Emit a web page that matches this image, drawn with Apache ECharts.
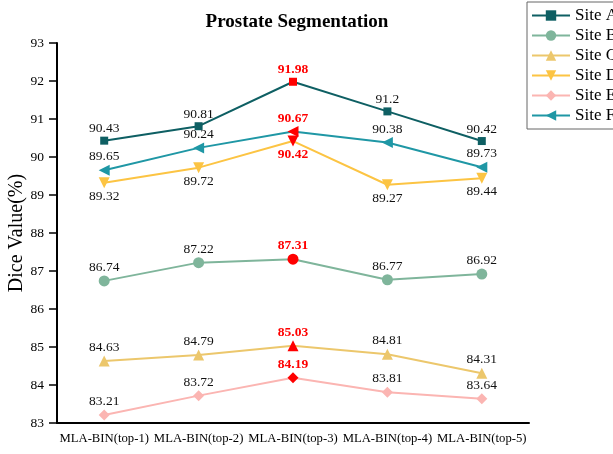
<!DOCTYPE html>
<html><head><meta charset="utf-8">
<script src="https://cdn.jsdelivr.net/npm/echarts@6/dist/echarts.min.js"></script>
<style>html,body{margin:0;padding:0;background:#fff}#c{width:613px;height:454px}</style>
</head><body><div id="c"></div>
<script>
var categories = ['MLA-BIN(top-1)','MLA-BIN(top-2)','MLA-BIN(top-3)','MLA-BIN(top-4)','MLA-BIN(top-5)'];
var siteA = [90.43, 90.81, 91.98, 91.2, 90.42];
var siteB = [86.74, 87.22, 87.31, 86.77, 86.92];
var siteC = [84.63, 84.79, 85.03, 84.81, 84.31];
var siteD = [89.32, 89.72, 90.42, 89.27, 89.44];
var siteE = [83.21, 83.72, 84.19, 83.81, 83.64];
var siteF = [89.65, 90.24, 90.67, 90.38, 89.73];
var bestIndex = 2;

var FONT = '"Liberation Serif","Times New Roman",serif';
function mk(name, data, color, symbol, rot, size, labelPos) {
  return {
    name: name, type: 'line', data: data.map(function(v, i){
      if (i === bestIndex) {
        return {value: v, itemStyle: {color: '#ff0000'},
          label: {color: '#ff0000', fontWeight: 'bold'}};
      }
      return v;
    }),
    symbol: symbol, symbolRotate: rot, symbolSize: size,
    lineStyle: {color: color, width: 2}, itemStyle: {color: color},
    label: {show: true, position: labelPos, fontFamily: FONT, fontSize: 13.5, color: '#111', distance: 1},
    z: 3
  };
}
var chart = echarts.init(document.getElementById('c'));
chart.setOption({
  backgroundColor: '#fff',
  animation: false,
  title: {text: 'Prostate Segmentation', left: 292, textAlign: 'center', top: 8,
    textStyle: {fontFamily: FONT, fontWeight: 'bold', fontSize: 19, color: '#000'}},
  legend: {orient: 'vertical', left: 527, top: 2, itemWidth: 38, itemHeight: 13, itemGap: 3,
    padding: [5, 20, 5, 4], borderColor: '#666', borderWidth: 1,
    textStyle: {fontFamily: FONT, fontSize: 17, color: '#000'},
    data: ['Site A','Site B','Site C','Site D','Site E','Site F']},
  grid: {left: 57, right: 84, top: 43, bottom: 31, containLabel: false, outerBoundsMode: 'none'},
  xAxis: {type: 'category', data: categories, boundaryGap: true,
    axisLine: {lineStyle: {color: '#000', width: 2}},
    axisTick: {alignWithLabel: true, length: 6, lineStyle: {color: '#000', width: 1.5}},
    axisLabel: {fontFamily: FONT, fontSize: 12.7, color: '#000', margin: 9, interval: 0}},
  yAxis: {type: 'value', min: 83, max: 93, interval: 1,
    name: 'Dice Value(%)', nameLocation: 'middle', nameGap: 30, nameMoveOverlap: false,
    nameTextStyle: {fontFamily: FONT, fontSize: 20, color: '#000'},
    axisLine: {show: true, lineStyle: {color: '#000', width: 2}},
    axisTick: {show: true, length: 8, lineStyle: {color: '#000', width: 1.5}},
    splitLine: {show: false},
    axisLabel: {fontFamily: FONT, fontSize: 13.5, color: '#000', margin: 13}},
  series: [
    mk('Site A', siteA, '#0e5f63', 'rect', 0, 8, 'top'),
    mk('Site B', siteB, '#7fb59b', 'circle', 0, 11, 'top'),
    mk('Site C', siteC, '#ecc76c', 'triangle', 0, 11, 'top'),
    mk('Site D', siteD, '#fcc443', 'triangle', 180, 11, 'bottom'),
    mk('Site E', siteE, '#fbb5b2', 'diamond', 0, 11, 'top'),
    mk('Site F', siteF, '#1f97a5', 'triangle', 90, 11, 'top')
  ]
});
</script></body></html>
